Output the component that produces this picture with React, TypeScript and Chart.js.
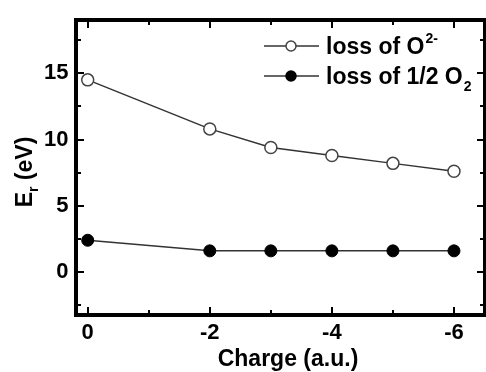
import React, { useEffect, useRef } from 'react';
import { Chart, registerables } from 'chart.js';

Chart.register(...registerables);

const charges = [0, -2, -3, -4, -5, -6];
const lossO2minus = [14.5, 10.8, 9.4, 8.8, 8.2, 7.6];
const lossHalfO2 = [2.4, 1.6, 1.6, 1.6, 1.6, 1.6];
const xMajorTicks = [0, -2, -4, -6];
const xMinorTicks = [-1, -3, -5];
const yMajorTicks = [0, 5, 10, 15];
const yMinorTicks = [-2.5, 2.5, 7.5, 12.5, 17.5];
const seriesLabels = ['loss of O', 'loss of 1/2 O'];
const seriesScripts = ['2-', '2'];
const xTitle = 'Charge (a.u.)';

const FONT = 'Arial, "Liberation Sans", sans-serif';
const FRAME = 4;

const framePlugin = {
  id: 'framePlugin',
  afterDraw(chart: any) {
    const { ctx, chartArea: a, scales } = chart;
    const x = scales.x;
    const y = scales.y;
    ctx.save();
    ctx.fillStyle = '#000';
    const h = FRAME / 2;
    const L = Math.round(a.left - h);
    const T = Math.round(a.top - h);
    const R = Math.round(a.right - h);
    const B = Math.round(a.bottom - h);
    ctx.fillRect(L, T, R - L + FRAME, FRAME);
    ctx.fillRect(L, B, R - L + FRAME, FRAME);
    ctx.fillRect(L, T, FRAME, B - T + FRAME);
    ctx.fillRect(R, T, FRAME, B - T + FRAME);
    const major = 6;
    const minor = 3;
    const vTick = (v: number, len: number) => {
      const p = Math.round(x.getPixelForValue(v) - 1);
      ctx.fillRect(p, B - len, 2, len);
      ctx.fillRect(p, T + FRAME, 2, len);
    };
    const hTick = (v: number, len: number) => {
      const p = Math.round(y.getPixelForValue(v) - 1);
      ctx.fillRect(L + FRAME, p, len, 2);
      ctx.fillRect(R - len, p, len, 2);
    };
    xMajorTicks.forEach((v) => vTick(v, major));
    xMinorTicks.forEach((v) => vTick(v, minor));
    yMajorTicks.forEach((v) => hTick(v, major));
    yMinorTicks.forEach((v) => hTick(v, minor));

    ctx.fillStyle = '#000';
    ctx.font = `bold 23px ${FONT}`;
    ctx.textAlign = 'center';
    ctx.textBaseline = 'alphabetic';
    ctx.fillText(xTitle, 288, 366);

    ctx.save();
    ctx.translate(31.5, 172);
    ctx.rotate(-Math.PI / 2);
    ctx.textAlign = 'left';
    ctx.font = `bold 23px ${FONT}`;
    const wE = ctx.measureText('E').width;
    const wRest = ctx.measureText(' (eV)').width;
    ctx.font = `bold 14px ${FONT}`;
    const wR = ctx.measureText('r').width;
    const total = wE + wR + wRest;
    const sx = -total / 2;
    ctx.font = `bold 23px ${FONT}`;
    ctx.fillText('E', sx, 0);
    ctx.font = `bold 14px ${FONT}`;
    ctx.fillText('r', sx + wE, 6);
    ctx.font = `bold 23px ${FONT}`;
    ctx.fillText(' (eV)', sx + wE + wR, 0);
    ctx.restore();

    const rowsY = [46, 76];
    chart.data.datasets.forEach((ds: any, i: number) => {
      const ly = rowsY[i];
      ctx.strokeStyle = ds.borderColor;
      ctx.lineWidth = 1.5;
      ctx.beginPath();
      ctx.moveTo(264, ly);
      ctx.lineTo(319, ly);
      ctx.stroke();
      ctx.beginPath();
      ctx.arc(291, ly, 5, 0, Math.PI * 2);
      ctx.fillStyle = ds.pointBackgroundColor;
      ctx.fill();
      ctx.strokeStyle = ds.pointBorderColor;
      ctx.lineWidth = 1.5;
      ctx.stroke();
      ctx.fillStyle = '#000';
      ctx.textAlign = 'left';
      ctx.font = `bold 23px ${FONT}`;
      const base = ly + 8;
      ctx.fillText(seriesLabels[i], 326, base);
      const w = ctx.measureText(seriesLabels[i]).width;
      ctx.font = `bold 14px ${FONT}`;
      ctx.fillText(seriesScripts[i], 326 + w + 1, i === 0 ? base - 11 : base + 7);
    });
    ctx.restore();
  },
};

export default function App() {
  const ref = useRef<HTMLCanvasElement | null>(null);
  useEffect(() => {
    if (!ref.current) return;
    const chart = new Chart(ref.current, {
      type: 'line',
      data: {
        datasets: [
          {
            label: seriesLabels[0],
            data: charges.map((c, i) => ({ x: c, y: lossO2minus[i] })),
            borderColor: '#333',
            borderWidth: 1.5,
            pointRadius: 6,
            pointBackgroundColor: '#fff',
            pointBorderColor: '#444',
            pointBorderWidth: 1.5,
            tension: 0,
          },
          {
            label: seriesLabels[1],
            data: charges.map((c, i) => ({ x: c, y: lossHalfO2[i] })),
            borderColor: '#333',
            borderWidth: 1.5,
            pointRadius: 6,
            pointBackgroundColor: '#000',
            pointBorderColor: '#000',
            pointBorderWidth: 1,
            tension: 0,
          },
        ],
      },
      options: {
        animation: false,
        responsive: false,
        devicePixelRatio: 1,
        layout: { padding: { top: 14.5, right: 4.5, left: 0, bottom: 0 } },
        plugins: { legend: { display: false }, tooltip: { enabled: false } },
        scales: {
          x: {
            type: 'linear',
            reverse: true,
            min: -6.5,
            max: 0.2,
            grid: { display: false, drawTicks: false },
            border: { display: false },
            afterBuildTicks: (s: any) => {
              s.ticks = xMajorTicks.map((v) => ({ value: v }));
            },
            afterFit: (s: any) => {
              s.height = 57.5;
            },
            ticks: {
              color: '#000',
              padding: 5,
              maxRotation: 0,
              autoSkip: false,
              font: { family: FONT, size: 22, weight: 'bold' },
              callback: (v: any) => String(v),
            },
          },
          y: {
            type: 'linear',
            min: -3.2,
            max: 19,
            grid: { display: false, drawTicks: false },
            border: { display: false },
            afterBuildTicks: (s: any) => {
              s.ticks = yMajorTicks.map((v) => ({ value: v }));
            },
            afterFit: (s: any) => {
              s.width = 75.5;
            },
            ticks: {
              color: '#000',
              padding: 7,
              font: { family: FONT, size: 22, weight: 'bold' },
              callback: (v: any) => String(v),
            },
          },
        },
      },
      plugins: [framePlugin],
    });
    return () => chart.destroy();
  }, []);
  return (
    <div
      style={{
        position: 'absolute',
        left: 0,
        top: 0,
        width: 486,
        height: 372,
        overflow: 'hidden',
        background: '#fff',
      }}
    >
      <canvas ref={ref} width={492} height={372} style={{ display: 'block' }} />
    </div>
  );
}
